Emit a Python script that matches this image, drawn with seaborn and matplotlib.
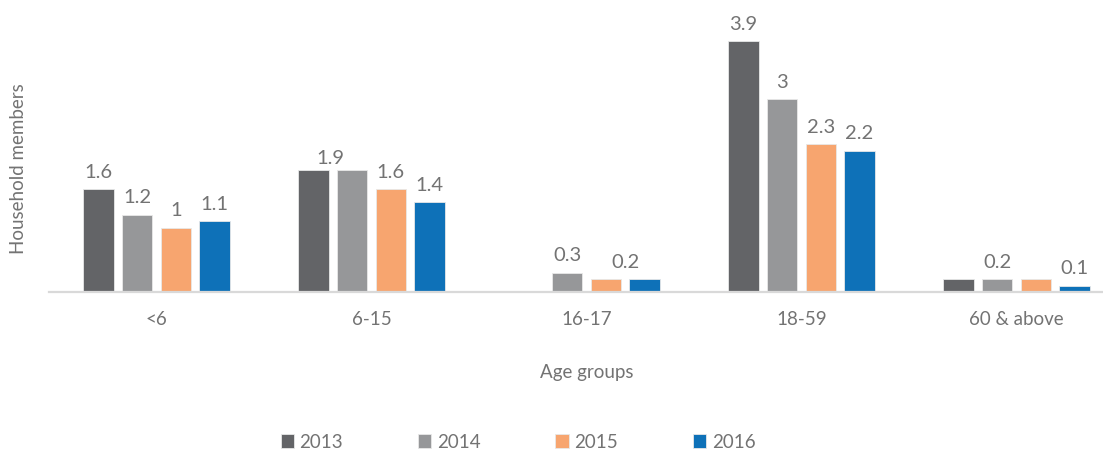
import pandas as pd
import matplotlib.pyplot as plt
import seaborn as sns

# --- Data ---
age_groups = ["<6", "6-15", "16-17", "18-59", "60 & above"]
years = ["2013", "2014", "2015", "2016"]
members_2013 = [1.6, 1.9, 0.0, 3.9, 0.2]
members_2014 = [1.2, 1.9, 0.3, 3.0, 0.2]
members_2015 = [1.0, 1.6, 0.2, 2.3, 0.2]
members_2016 = [1.1, 1.4, 0.2, 2.2, 0.1]

# labels as they appear on the chart (some bars carry none)
labels_2013 = ["1.6", "1.9", "", "3.9", ""]
labels_2014 = ["1.2", "", "0.3", "3", "0.2"]
labels_2015 = ["1", "1.6", "0.2", "2.3", ""]
labels_2016 = ["1.1", "1.4", "", "2.2", "0.1"]

colors = ["#636467", "#969799", "#F7A56F", "#0E71B8"]
text_grey = "#737373"

rows = []
for yr, vals in zip(years, [members_2013, members_2014, members_2015, members_2016]):
    for g, v in zip(age_groups, vals):
        rows.append({"Age groups": g, "Year": yr, "Household members": v})
df = pd.DataFrame(rows)

sns.set_theme(style="white")
plt.rcParams["font.family"] = ["Lato", "DejaVu Sans"]

fig = plt.figure(figsize=(11.03, 4.54), dpi=100)
ax = fig.add_axes([49 / 1103, 162 / 454, 1075 / 1103, 283 / 454])

sns.barplot(
    data=df, x="Age groups", y="Household members", hue="Year",
    order=age_groups, hue_order=years, palette=colors, saturation=1,
    width=0.72, gap=0.22, edgecolor="#e8e8e8", linewidth=0.6,
    errorbar=None, ax=ax,
)

# --- Bar labels ---
# small manual nudges (points) where labels sit between bars
nudges = {("2013", 1): (12, -4), ("2015", 2): (14, 0)}
all_labels = [labels_2013, labels_2014, labels_2015, labels_2016]
for yr, cont, labs in zip(years, ax.containers, all_labels):
    for i, (bar, lab) in enumerate(zip(cont, labs)):
        if not lab:
            continue
        dx, dy = nudges.get((yr, i), (0, 0))
        ax.annotate(
            lab,
            (bar.get_x() + bar.get_width() / 2, bar.get_height()),
            xytext=(dx, 6 + dy), textcoords="offset points",
            ha="center", va="bottom", fontsize=14.5, color=text_grey,
        )

# --- Axes styling ---
ax.set_ylim(0, 4.4)
ax.set_yticks([])
for s in ["top", "right", "left"]:
    ax.spines[s].set_visible(False)
ax.spines["bottom"].set_color("#d9d9d9")
ax.spines["bottom"].set_linewidth(1.6)
ax.tick_params(axis="x", length=0, pad=14, labelsize=13.5, labelcolor=text_grey)

ax.set_xlabel("Age groups", fontsize=13.5, color=text_grey)
ax.xaxis.set_label_coords(0.5, -0.283)
ax.xaxis.label.set_verticalalignment("center")
ax.set_ylabel("Household members", fontsize=13.5, color=text_grey)
ax.yaxis.set_label_coords(-0.028, 0.435)
ax.yaxis.label.set_verticalalignment("center")

# --- Legend ---
handles, lbls = ax.get_legend_handles_labels()
ax.legend_.remove()
leg = fig.legend(
    handles, lbls, loc="center", bbox_to_anchor=(518 / 1103, 12 / 454),
    ncol=4, frameon=False, fontsize=13.5, handlelength=0.7, handleheight=0.7,
    handletextpad=0.3, columnspacing=4.0,
)
for t in leg.get_texts():
    t.set_color(text_grey)

fig.savefig("out.png", dpi=100)
